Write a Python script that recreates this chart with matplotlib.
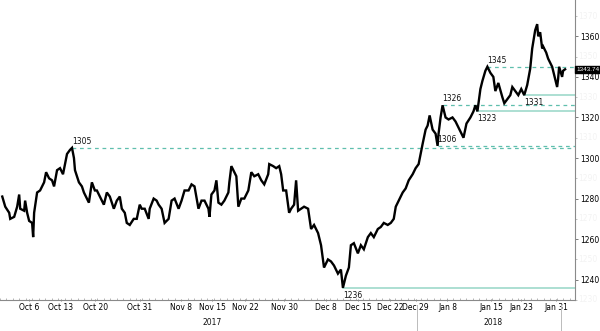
import matplotlib
matplotlib.use('Agg')
import matplotlib.pyplot as plt
import matplotlib.transforms as mtransforms

# trading days counted from Oct 2, 2017
day = [-0.15, 0.31, 0.92, 1.08, 1.69, 2.15, 2.46, 2.62, 3.23, 3.38, 3.69, 4.00, 4.46, 4.62, 4.77,
       5.23, 5.69, 6.31, 6.62, 7.08, 7.54, 7.85, 8.31, 8.77, 9.23, 9.54, 9.85, 10.31, 10.62, 10.92,
       11.08, 11.69, 12.15, 12.46, 12.92, 13.23, 13.69, 14.15, 14.46, 14.92, 15.54, 16.00, 16.46,
       17.08, 17.54, 18.00, 18.31, 18.77, 19.08, 19.54, 20.15, 20.62, 21.08, 21.38, 21.85, 22.46,
       22.62, 23.23, 23.69, 24.00, 24.46, 24.92, 25.54, 26.00, 26.46, 27.08, 27.54, 28.00, 28.62,
       29.08, 29.54, 30.15, 30.62, 31.08, 31.69, 31.85, 32.15, 32.62, 32.92, 33.23, 33.69, 34.15,
       34.77, 34.92, 35.23, 35.69, 36.00, 36.31, 36.77, 37.23, 37.85, 38.31, 38.77, 39.38, 39.85,
       40.31, 40.92, 41.08, 41.69, 42.15, 42.62, 42.92, 43.23, 43.69, 44.15, 44.46, 44.92, 45.23,
       45.54, 46.00, 46.46, 47.08, 47.54, 48.00, 48.62, 49.08, 49.54, 50.15, 50.62, 51.08, 51.69,
       52.15, 52.46, 52.92, 53.38, 53.69, 54.15, 54.77, 55.23, 55.69, 56.31, 56.77, 57.23, 57.85,
       58.31, 58.77, 59.38, 59.85, 60.31, 60.62, 61.08, 61.69, 62.15, 62.62, 63.23, 63.69, 64.15,
       64.46, 64.77, 65.23, 65.54, 65.85, 66.31, 66.77, 67.08, 67.23, 67.54, 67.85, 68.31, 68.77,
       69.38, 69.85, 70.31, 70.92, 71.08, 71.54, 72.15, 72.62, 72.92, 73.23, 73.69, 74.00, 74.46,
       74.77, 75.23, 75.69, 76.00, 76.46, 77.08, 77.38, 77.85, 78.31, 78.62, 79.08, 79.54, 80.00,
       80.46, 80.92, 81.38, 81.69, 82.15, 82.46, 82.62, 82.92, 83.23, 83.38, 83.85, 84.15, 84.77,
       85.23, 85.54, 85.69, 85.85, 86.31, 86.46, 86.77]
price = [1281, 1276, 1273, 1270, 1271, 1276, 1282, 1275, 1274, 1279, 1273, 1269, 1268, 1261, 1273,
         1283, 1284, 1288, 1293, 1290, 1289, 1286, 1294, 1295, 1292, 1297, 1302, 1304, 1305, 1300,
         1294, 1288, 1286, 1283, 1280, 1278, 1288, 1284, 1284, 1281, 1277, 1283, 1281,
         1275, 1279, 1281, 1275, 1273, 1268, 1267, 1270, 1270, 1277, 1275, 1275, 1270,
         1275, 1280, 1279, 1277, 1275, 1268, 1270, 1279, 1280, 1275, 1279, 1284, 1284,
         1287, 1286, 1275, 1279, 1279, 1275, 1271, 1282, 1284, 1289, 1278, 1277, 1279,
         1283, 1288, 1296, 1293, 1291, 1276, 1280, 1280, 1284, 1293, 1291, 1292, 1289,
         1287, 1292, 1297, 1296, 1295, 1296, 1292, 1284, 1284, 1273, 1275, 1277, 1289,
         1274, 1275, 1276, 1275, 1265, 1267, 1263, 1257, 1246, 1250, 1249, 1247, 1243,
         1245, 1236, 1242, 1246, 1257, 1258, 1253, 1257, 1255, 1261, 1263, 1261, 1265,
         1266, 1268, 1267, 1268, 1270, 1276, 1279, 1283, 1285, 1289, 1292, 1295, 1297,
         1302, 1307, 1314, 1316, 1321, 1314, 1312, 1306, 1312, 1320, 1326, 1320, 1319,
         1320, 1318, 1315, 1311, 1310, 1317, 1320, 1323, 1326, 1323, 1334, 1338, 1343,
         1345, 1342, 1340, 1333, 1337, 1330, 1327, 1329, 1331, 1335, 1333, 1331, 1334,
         1331, 1336, 1344, 1354, 1363, 1366, 1360, 1362, 1354, 1355, 1352, 1349, 1345,
         1339, 1335, 1339, 1345, 1340, 1343, 1343.74]

# support / resistance levels: value, start day, style, label side
levels = [1305, 1236, 1306, 1326, 1323, 1345, 1331]
level_start = [10.62, 52.46, 67.08, 67.85, 73.23, 74.77, 80.46]
level_dashed = [True, False, True, True, False, True, False]
level_above = [True, False, True, True, False, True, False]

tick_days = [4.0, 8.9, 14.2, 21.1, 27.5, 32.3, 37.4, 43.4, 49.8, 54.8, 59.7, 63.7, 68.6, 75.4, 80.0, 85.4]
tick_labels = ['Oct 6', 'Oct 13', 'Oct 20', 'Oct 31', 'Nov 8', 'Nov 15', 'Nov 22', 'Nov 30',
               'Dec 8', 'Dec 15', 'Dec 22', 'Dec 29', 'Jan 8', 'Jan 15', 'Jan 23', 'Jan 31']
years = ['2017', '2018']
year_days = [32.3, 75.7]
year_breaks = [63.85, 86.15]
last_price = 1343.74

fig = plt.figure(figsize=(6, 3.31), dpi=100)
ax = fig.add_axes([0, 1 - 300 / 331, 575 / 600, 300 / 331])

for lv, st, dashed, above in zip(levels, level_start, level_dashed, level_above):
    if dashed:
        ax.plot([st, 88.3], [lv, lv], color='#5fbfad', lw=0.9, ls=(0, (3, 3)), zorder=1)
    else:
        ax.plot([st, 88.3], [lv, lv], color='#a6dccf', lw=1.3, zorder=1)
    ax.annotate(str(lv), (st, lv), xytext=(0, 1.5 if above else -2), textcoords='offset points',
                ha='left', va='bottom' if above else 'top', fontsize=5.5, color='#111111', zorder=3)

ax.plot(day, price, color='black', lw=1.7, solid_joinstyle='miter', zorder=2)

ax.set_xlim(-0.15, 88.3)
ax.set_ylim(1232.7, 1377.9)

for s in ['left', 'top']:
    ax.spines[s].set_visible(False)
ax.spines['right'].set_color('#8a8a8a')
ax.spines['bottom'].set_color('#8a8a8a')

yt = mtransforms.blended_transform_factory(ax.transAxes, ax.transData)
ax.yaxis.tick_right()
ax.set_yticks(range(1240, 1361, 20))
ax.set_yticks(range(1230, 1371, 20), minor=True)
ax.tick_params(axis='y', which='major', length=2, width=0.6, color='#666666', labelsize=5.5, pad=1.5)
ax.tick_params(axis='y', which='minor', length=1.5, width=0.5, color='#aaaaaa')
for v in range(1230, 1371, 20):
    ax.text(1.006, v, str(v), transform=yt, fontsize=5.5, color='#f3f3f3', va='center', ha='left')

ax.set_xticks(tick_days)
ax.set_xticklabels(tick_labels)
ax.set_xticks([d + 0.5 for d in range(-1, 88)], minor=True)
ax.tick_params(axis='x', which='major', length=2, width=0.6, color='#777777', labelsize=5.5, pad=1.5, direction='inout')
ax.tick_params(axis='x', which='minor', length=1.5, width=0.5, color='#999999', direction='in')

trans = mtransforms.blended_transform_factory(ax.transData, ax.transAxes)
for yr, d in zip(years, year_days):
    ax.text(d, -0.075, yr, transform=trans, fontsize=5.5, ha='center', va='center', color='#111111')
for d in year_breaks:
    ax.plot([d, d], [-0.017, -0.11], transform=trans, color='#bbbbbb', lw=0.7, clip_on=False)

ax.text(1.002, last_price, f'{last_price:.2f}', transform=yt, family='Liberation Sans',
        fontsize=4.6, color='white', va='center', ha='left',
        bbox=dict(boxstyle='square,pad=0.12', facecolor='black', edgecolor='black'))

fig.savefig('out.png', dpi=100)
